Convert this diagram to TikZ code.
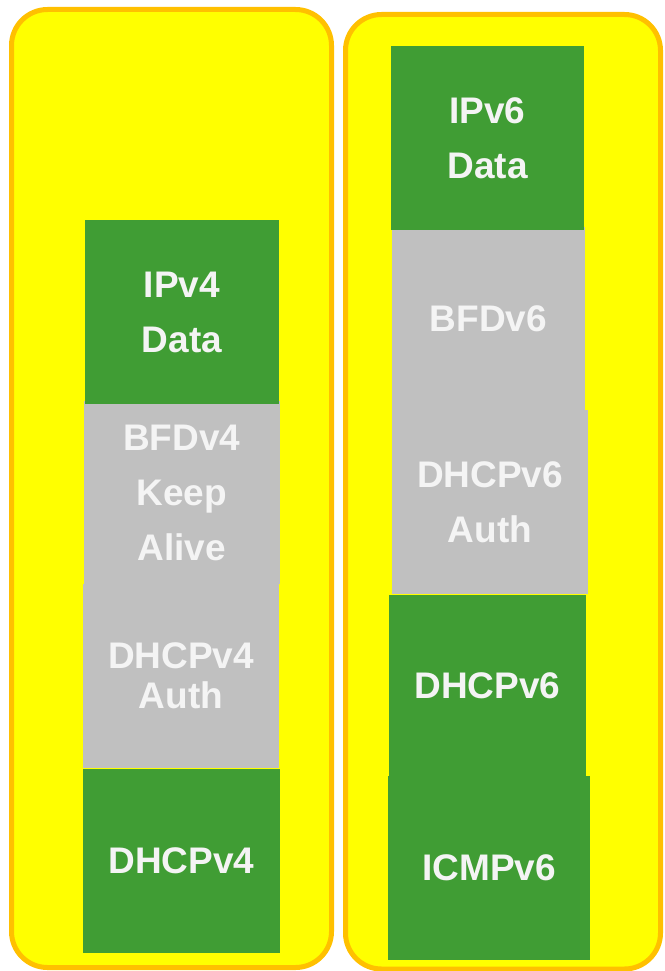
\documentclass[tikz,border=0pt]{standalone}
\usepackage{fontspec}
\setmainfont{Liberation Sans}
\definecolor{padyellow}{HTML}{FFFF00}
\definecolor{padborder}{HTML}{FFC000}
\definecolor{blockgreen}{HTML}{409D34}
\definecolor{blockgray}{HTML}{C0C0C0}
\definecolor{blocktext}{HTML}{F4F4F4}
\begin{document}
\begin{tikzpicture}[x=1pt,y=-1pt,
  container/.style={draw=padborder, line width=5pt, fill=padyellow, rounded corners=36pt},
  blockbase/.style={rectangle, inner sep=0pt, outer sep=0pt, text=blocktext, align=center,
    font=\bfseries\fontsize{37}{55}\selectfont},
  greenblock/.style={blockbase, fill=blockgreen},
  grayblock/.style={blockbase, fill=blockgray}
]
\useasboundingbox (0,0) rectangle (664,971);
% containers
\draw[container] (11.5,9.5) rectangle (331.5,967.5);
\draw[container] (345.5,14.5) rectangle (660.5,969);
% left stack
\node[grayblock, minimum width=195.7pt, minimum height=183pt] (bfd4) at (181.85,492.5) {BFDv4\\Keep\\Alive};
\node[greenblock, minimum width=194pt, minimum height=184pt] (ipv4) at (182,312) {IPv4\\Data};
\node[grayblock, minimum width=196pt, minimum height=184pt,
  font=\bfseries\fontsize{37}{40}\selectfont] (dhcp4auth) at (181,676) {DHCPv4\\Auth};
\node[greenblock, minimum width=197pt, minimum height=184pt] (dhcp4) at (181.5,861) {DHCPv4};
% right stack
\node[grayblock, minimum width=193pt, minimum height=183pt] (bfd6) at (488.5,318.5) {BFDv6};
\node[greenblock, minimum width=193pt, minimum height=184pt] (ipv6) at (487.5,138) {IPv6\\Data};
\node[grayblock, minimum width=196pt, minimum height=184pt] (dhcp6auth) at (490,502) {DHCPv6\\Auth};
\node[greenblock, minimum width=197pt, minimum height=181pt] (dhcp6) at (487.5,685.5) {DHCPv6};
\node[greenblock, minimum width=202pt, minimum height=184pt] (icmp6) at (489,868) {ICMPv6};
\end{tikzpicture}
\end{document}
